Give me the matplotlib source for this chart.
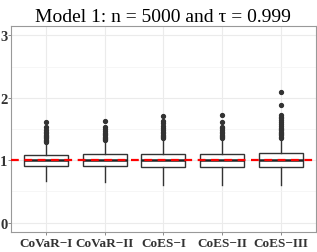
import matplotlib
matplotlib.use("Agg")
import matplotlib.pyplot as plt

# === Data ===
labels = ["CoVaR\u2212I", "CoVaR\u2212II", "CoES\u2212I", "CoES\u2212II", "CoES\u2212III"]
q1 = [0.90, 0.905, 0.89, 0.89, 0.89]
med = [1.0, 1.0, 1.0, 1.0, 1.0]
q3 = [1.09, 1.095, 1.105, 1.105, 1.115]
whislo = [0.66, 0.65, 0.61, 0.61, 0.61]
whishi = [1.27, 1.30, 1.33, 1.33, 1.34]
fliers = [
    [1.29, 1.31, 1.33, 1.35, 1.37, 1.39, 1.41, 1.43, 1.46, 1.49, 1.53, 1.61],
    [1.32, 1.34, 1.36, 1.38, 1.40, 1.42, 1.44, 1.47, 1.50, 1.54, 1.63],
    [1.35, 1.37, 1.39, 1.41, 1.43, 1.45, 1.48, 1.51, 1.55, 1.60, 1.63, 1.71],
    [1.35, 1.37, 1.39, 1.41, 1.43, 1.45, 1.48, 1.51, 1.54, 1.62, 1.72],
    [1.36, 1.38, 1.40, 1.42, 1.44, 1.46, 1.48, 1.50, 1.52, 1.55, 1.58, 1.61,
     1.64, 1.67, 1.70, 1.73, 1.89, 2.09],
]
ref_level = 1.0
yticks = [0, 1, 2, 3]

plt.rcParams["font.family"] = ["Liberation Serif", "DejaVu Serif"]

fig = plt.figure(figsize=(3.17, 2.53), dpi=100)
ax = fig.add_axes([0.034, 0.079, 0.963, 0.814])

stats = []
for i in range(len(labels)):
    stats.append({"med": med[i], "q1": q1[i], "q3": q3[i],
                  "whislo": whislo[i], "whishi": whishi[i], "fliers": fliers[i]})

pos = list(range(1, len(labels) + 1))
ax.bxp(stats, positions=pos, widths=0.75, patch_artist=True, showcaps=False,
       boxprops=dict(facecolor="white", edgecolor="#333333", linewidth=1.0),
       medianprops=dict(color="#222222", linewidth=1.8),
       whiskerprops=dict(color="#333333", linewidth=1.0),
       flierprops=dict(marker="o", markersize=2.8, markerfacecolor="#333333",
                       markeredgecolor="#333333", linestyle="none"))

ax.axhline(ref_level, color="red", linestyle=(0, (3.5, 2.5)), linewidth=1.6, zorder=5)

ax.set_xlim(0.4, len(labels) + 0.6)
ax.set_ylim(-0.15, 3.15)
ax.set_yticks(yticks)
ax.set_yticks([0.5, 1.5, 2.5], minor=True)
ax.set_xticks(pos)
ax.set_xticklabels(labels, fontweight="bold", fontsize=9.5, color="#333333")
ax.set_yticklabels([str(t) for t in yticks], fontweight="bold", fontsize=10.5, color="#333333")

ax.set_axisbelow(True)
ax.grid(True, which="major", color="#ebebeb", linewidth=0.8)
ax.grid(True, which="minor", axis="y", color="#f3f3f3", linewidth=0.5)
for s in ax.spines.values():
    s.set_color("#999999")
    s.set_linewidth(0.8)
ax.tick_params(which="major", length=2.5, width=0.6, color="#777777", pad=1)
ax.tick_params(which="minor", length=0)
ax.tick_params(axis="y", length=2, pad=0.5)

ax.set_title("Model 1: n = 5000 and \u03c4 = 0.999", fontsize=14, pad=4)

fig.savefig("out.png", dpi=100)
